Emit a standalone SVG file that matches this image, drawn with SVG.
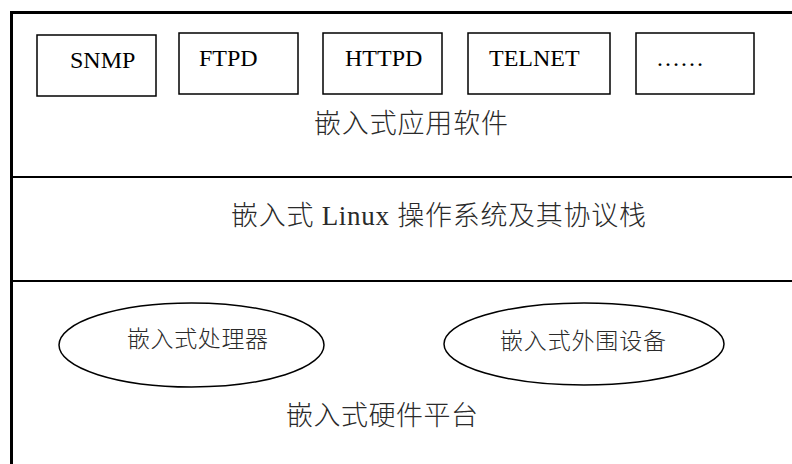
<svg xmlns="http://www.w3.org/2000/svg" width="792" height="464" viewBox="0 0 792 464">
<style>
.box{fill:#fff;stroke:#000;stroke-width:1.5}
.ell{fill:#fff;stroke:#000;stroke-width:1.5}
.lat{font-family:"Liberation Serif","Times New Roman",serif;font-size:24px;fill:#000}
.cjk{font-family:"Liberation Serif","Noto Sans CJK SC",serif;fill:#2a2a2a;font-weight:300}
.big{font-size:27px}
.sm{font-size:23px}
</style>
<rect x="0" y="0" width="792" height="464" fill="#fff"/>
<g id="frame">
<rect x="11.5" y="12.5" width="800" height="470" fill="none" stroke="#000" stroke-width="3"/>
<line x1="12" y1="177" x2="792" y2="177" stroke="#000" stroke-width="2"/>
<line x1="12" y1="281" x2="792" y2="281" stroke="#000" stroke-width="2"/>
</g>
<g id="app-layer">
<g id="snmp"><rect class="box" x="37" y="35" width="119" height="61"/><text class="lat" x="70" y="68">SNMP</text></g>
<g id="ftpd"><rect class="box" x="179" y="33" width="119" height="61"/><text class="lat" x="199" y="66">FTPD</text></g>
<g id="httpd"><rect class="box" x="323" y="33" width="119" height="61"/><text class="lat" x="345" y="66">HTTPD</text></g>
<g id="telnet"><rect class="box" x="468" y="33" width="142" height="61"/><text class="lat" x="489" y="66">TELNET</text></g>
<g id="more"><rect class="box" x="636" y="33" width="118" height="61"/><text class="lat" x="656" y="66">……</text></g>
<text class="cjk big" x="314" y="133" textLength="194" lengthAdjust="spacing">嵌入式应用软件</text>
</g>
<g id="os-layer">
<text class="cjk big" x="231" y="225" textLength="415" lengthAdjust="spacing">嵌入式 Linux 操作系统及其协议栈</text>
</g>
<g id="hw-layer">
<g id="cpu"><ellipse class="ell" cx="191.5" cy="345" rx="132.5" ry="42"/><text class="cjk sm" x="127" y="347" textLength="141" lengthAdjust="spacing">嵌入式处理器</text></g>
<g id="periph"><ellipse class="ell" cx="584" cy="344" rx="140" ry="41"/><text class="cjk sm" x="500" y="349" textLength="166" lengthAdjust="spacing">嵌入式外围设备</text></g>
<text class="cjk big" x="286" y="425" textLength="192" lengthAdjust="spacing">嵌入式硬件平台</text>
</g>
</svg>
